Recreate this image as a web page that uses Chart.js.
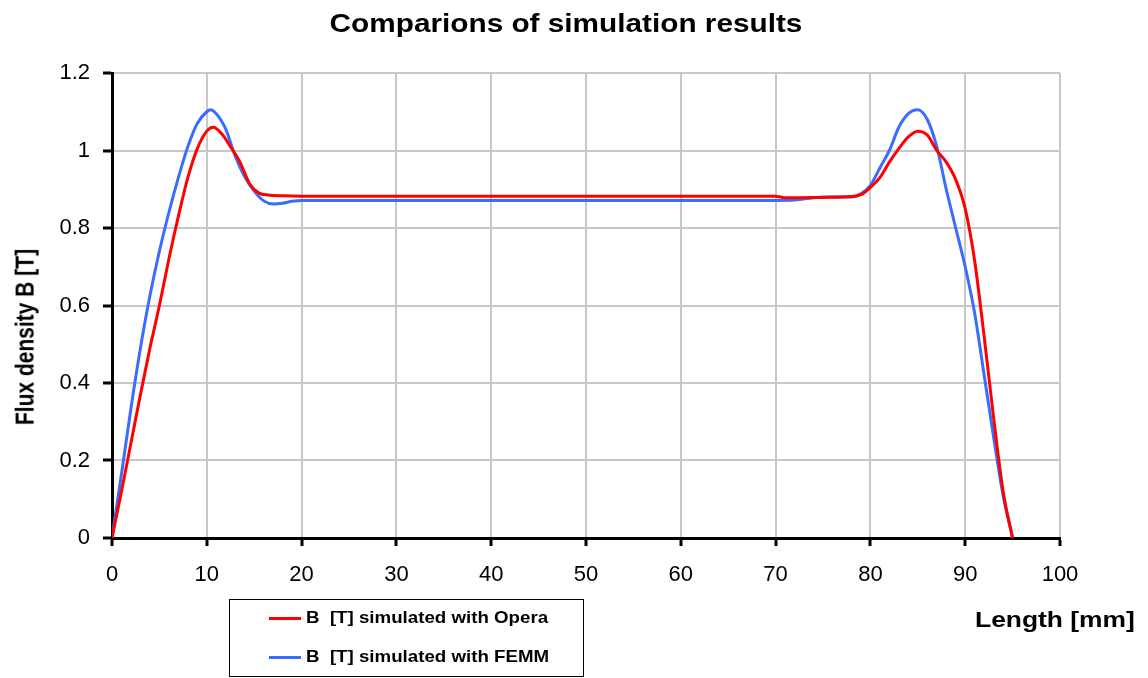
<!DOCTYPE html>
<html>
<head>
<meta charset="utf-8">
<script src="https://cdn.jsdelivr.net/npm/chart.js@4"></script>
<style>
  body { margin: 0; background: #fff; font-family: "Liberation Sans", Arial, sans-serif; }
  #wrap { position: relative; width: 1148px; height: 678px; }
  #title { position: absolute; left: 566px; top: 9px; font-weight: bold; font-size: 25px; white-space: nowrap;
           transform: translateX(-50%) scaleX(1.19); }
  #ytitle { position: absolute; left: 25px; top: 337px; font-weight: bold; font-size: 21px; white-space: nowrap;
            transform: translate(-50%, -50%) rotate(-90deg) scaleY(1.2); }
  #xtitle { position: absolute; left: 975px; top: 607px; font-weight: bold; font-size: 22px; white-space: nowrap;
            transform-origin: left center; transform: scaleX(1.2); }
  #legend { position: absolute; left: 229px; top: 599px; width: 355px; height: 78px; border: 1px solid #000; box-sizing: border-box; }
  .item { position: absolute; left: 39px; font-weight: bold; font-size: 17px; white-space: nowrap; }
  .item span { display: inline-block; width: 32px; height: 3px; vertical-align: middle; margin-right: 5px; }
  .item b { display: inline-block; transform-origin: left center; transform: scaleX(1.1); font-weight: bold; }
</style>
</head>
<body>
<div id="wrap">
  <canvas id="chart" width="1148" height="678"></canvas>
  <div id="title">Comparions of simulation results</div>
  <div id="ytitle">Flux density B [T]</div>
  <div id="xtitle">Length [mm]</div>
  <div id="legend">
    <div class="item" style="top:8px"><span style="background:#ff0000"></span><b>B&nbsp; [T] simulated with Opera</b></div>
    <div class="item" style="top:47px"><span style="background:#3a6cff"></span><b>B&nbsp; [T] simulated with FEMM</b></div>
  </div>
</div>
<script>
const seriesNames = ["B [T] simulated with Opera", "B [T] simulated with FEMM"];

const operaX = [0, 1, 2, 3, 4, 5, 6, 7, 8, 9, 10, 10.7, 11.5, 12.5, 13.5, 14.5, 15.5, 16.5, 18, 20, 30, 40, 50, 60, 70, 71, 75, 78, 79, 80, 81, 82, 83, 84, 85, 86, 87, 88, 89, 90, 91, 92, 93, 94, 95];
const operaY = [0, 0.12, 0.245, 0.37, 0.49, 0.6, 0.72, 0.83, 0.93, 1.005, 1.05, 1.06, 1.045, 1.01, 0.97, 0.915, 0.89, 0.885, 0.883, 0.882, 0.882, 0.882, 0.882, 0.882, 0.882, 0.878, 0.879, 0.881, 0.886, 0.905, 0.93, 0.97, 1.005, 1.035, 1.05, 1.04, 1.0, 0.97, 0.925, 0.85, 0.715, 0.52, 0.31, 0.12, 0];

const femmX = [0, 1, 2, 3, 4, 5, 6, 7, 8, 9, 10, 10.4, 11, 11.5, 12, 13, 14, 15, 16, 17, 18, 19, 20, 30, 40, 50, 60, 70, 72, 75, 78, 79, 80, 81, 82, 83, 84, 85, 86, 87, 88, 89, 90, 91, 92, 93, 94, 95];
const femmY = [0, 0.165, 0.335, 0.49, 0.625, 0.74, 0.84, 0.93, 1.01, 1.07, 1.1, 1.105, 1.095, 1.078, 1.055, 0.985, 0.932, 0.895, 0.87, 0.862, 0.864, 0.869, 0.871, 0.871, 0.871, 0.871, 0.871, 0.871, 0.872, 0.88, 0.88, 0.888, 0.91, 0.955, 1.0, 1.06, 1.095, 1.105, 1.08, 1.01, 0.9, 0.8, 0.7, 0.58, 0.42, 0.26, 0.11, 0];

const xTicks = [0, 10, 20, 30, 40, 50, 60, 70, 80, 90, 100];
const yTicks = [0, 0.2, 0.4, 0.6, 0.8, 1, 1.2];

const toPoints = (xs, ys) => xs.map((x, i) => ({ x: x, y: ys[i] }));

const tickFont = { family: "Liberation Sans", size: 22 };

const ctx = document.getElementById("chart").getContext("2d");
new Chart(ctx, {
  type: "line",
  data: {
    datasets: [
      {
        label: seriesNames[0],
        data: toPoints(operaX, operaY),
        borderColor: "#ff0000",
        borderWidth: 3,
        pointRadius: 0,
        cubicInterpolationMode: "monotone",
      },
      {
        label: seriesNames[1],
        data: toPoints(femmX, femmY),
        borderColor: "#3a6cff",
        borderWidth: 3,
        pointRadius: 0,
        cubicInterpolationMode: "monotone",
      },
    ],
  },
  options: {
    responsive: false,
    animation: false,
    layout: { padding: { left: 0, top: 73, right: 88, bottom: 0 } },
    plugins: { legend: { display: false }, tooltip: { enabled: false } },
    scales: {
      x: {
        type: "linear",
        min: 0,
        max: 100,
        afterBuildTicks: (scale) => { scale.ticks = xTicks.map(v => ({ value: v })); },
        afterFit: (scale) => { scale.height = 140; },
        ticks: { color: "#000", font: tickFont, padding: 16, maxRotation: 0 },
        grid: { color: "#c8c8c8", lineWidth: 2, tickColor: "#000", tickLength: 8, tickWidth: 3 },
        border: { color: "#000", width: 3 },
      },
      y: {
        min: 0,
        max: 1.2,
        afterBuildTicks: (scale) => { scale.ticks = yTicks.map(v => ({ value: v })); },
        afterFit: (scale) => { scale.width = 112; },
        ticks: { color: "#000", font: tickFont, padding: 13, callback: (v) => String(Math.round(v * 10) / 10) },
        grid: { color: "#c8c8c8", lineWidth: 2, tickColor: "#000", tickLength: 9, tickWidth: 3 },
        border: { color: "#000", width: 3 },
      },
    },
  },
});
</script>
</body>
</html>
